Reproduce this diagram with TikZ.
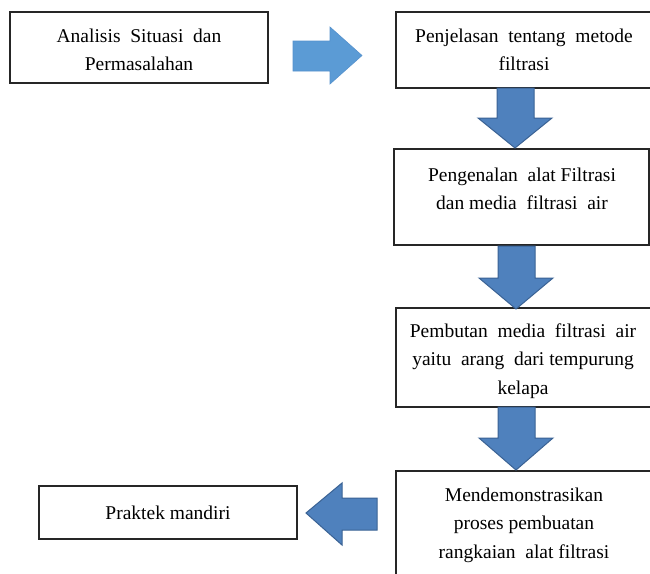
\documentclass[tikz,border=0pt]{standalone}
\usepackage{fontspec}
\setmainfont{Liberation Serif}
\begin{document}
\begin{tikzpicture}[x=1pt,y=-1pt,
  box/.style={draw=black!85,line width=1.3pt,fill=white},
  txt/.style={align=center,font=\fontsize{19.5}{28.5}\selectfont,inner sep=0pt},
  fatarrow/.style={fill={rgb,255:red,79;green,129;blue,189},draw={rgb,255:red,58;green,98;blue,148},line width=1pt,line join=miter},
  fatarrowlight/.style={fill={rgb,255:red,91;green,155;blue,213},draw={rgb,255:red,85;green,145;blue,205},line width=0.6pt,line join=miter}]
\useasboundingbox (0,0) rectangle (650,573);
\clip (0,0) rectangle (650,573);
\fill[white] (0,0) rectangle (650,573);
% boxes
\draw[box] (10,12) rectangle (268,83) coordinate (b1br);
\node[txt] (t1) at (139,50) {Analisis~~Situasi~~dan\\Permasalahan};
\draw[box] (396,12) rectangle (660,88);
\node[txt] (t2) at (524,50) {Penjelasan~~tentang~~metode\\filtrasi};
\draw[box] (394,149) rectangle (649,245);
\node[txt] (t3) at (522,189) {Pengenalan~~alat Filtrasi\\dan media~~filtrasi~~air};
\draw[box] (396,308) rectangle (660,407);
\node[txt] (t4) at (523,361) {Pembutan~~media~~filtrasi~~air\\yaitu~~arang~~dari tempurung\\kelapa};
\draw[box] (396,471) rectangle (660,590);
\node[txt] (t5) at (524,525) {Mendemonstrasikan\\proses pembuatan\\rangkaian~~alat filtrasi};
\draw[box] (39,486) rectangle (297,539);
\node[txt] (t6) at (168,513) {Praktek mandiri};
% arrows
\draw[fatarrowlight] (293,41) -- (330,41) -- (330,27) -- (362,55.5) -- (330,84) -- (330,71) -- (293,71) -- cycle;
\draw[fatarrow] (497,88) -- (534,88) -- (534,118) -- (552,118) -- (515,148) -- (478,118) -- (497,118) -- cycle;
\draw[fatarrow] (498,246) -- (535,246) -- (535,278) -- (553,278) -- (516,309) -- (479,278) -- (498,278) -- cycle;
\draw[fatarrow] (498,407) -- (535,407) -- (535,438) -- (553,438) -- (516,470) -- (479,438) -- (498,438) -- cycle;
\draw[fatarrow] (377,498) -- (342,498) -- (342,483) -- (306,513) -- (342,545) -- (342,530) -- (377,530) -- cycle;
\end{tikzpicture}
\end{document}
